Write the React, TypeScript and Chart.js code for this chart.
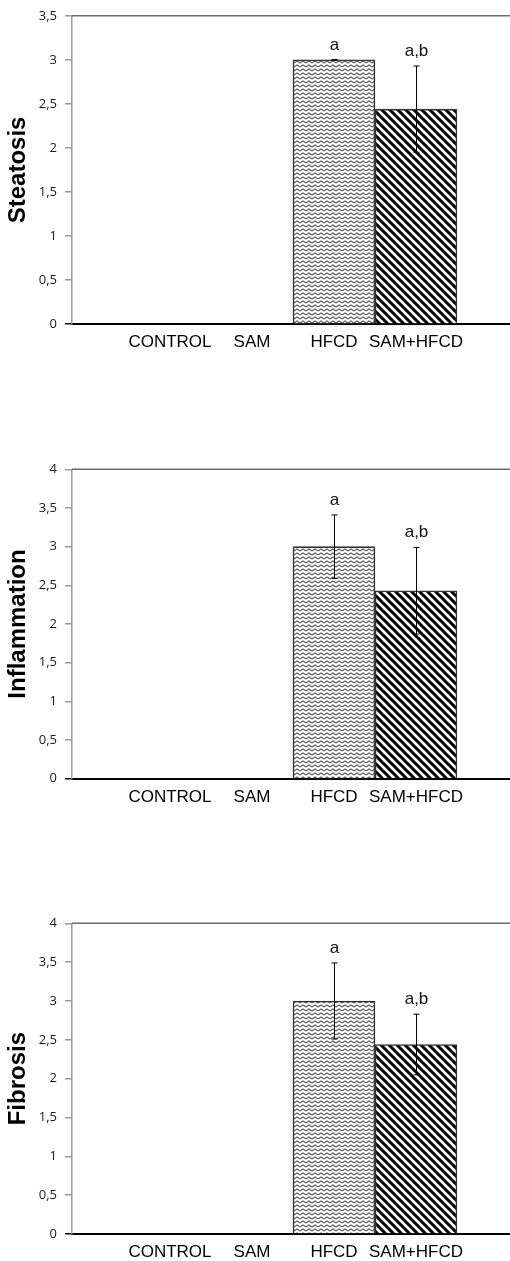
import React, { useEffect, useRef } from 'react';
import { Chart, registerables } from 'chart.js';

Chart.register(...registerables);

// ---------- data ----------
const categories = ['CONTROL', 'SAM', 'HFCD', 'SAM+HFCD'];
const significance = ['', '', 'a', 'a,b'];

const steatosisMean = [0, 0, 3.0, 2.44];
const steatosisErr = [0, 0, 0, 0.49];

const inflammationMean = [0, 0, 3.0, 2.43];
const inflammationErr = [0, 0, 0.41, 0.56];

const fibrosisMean = [0, 0, 3.0, 2.44];
const fibrosisErr = [0, 0, 0.49, 0.39];

const steatosisTicks = [0, 0.5, 1, 1.5, 2, 2.5, 3, 3.5];
const scoreTicks = [0, 0.5, 1, 1.5, 2, 2.5, 3, 3.5, 4];

// ---------- patterns ----------
function makeZigzag(): CanvasPattern | string {
  const c = document.createElement('canvas');
  c.width = 6;
  c.height = 4;
  const g = c.getContext('2d');
  if (!g) return '#ccc';
  g.fillStyle = '#ffffff';
  g.fillRect(0, 0, 6, 4);
  g.strokeStyle = '#5e5e5e';
  g.lineWidth = 1.1;
  g.beginPath();
  g.moveTo(0, 3);
  g.lineTo(3, 1);
  g.lineTo(6, 3);
  g.stroke();
  return g.createPattern(c, 'repeat') || '#ccc';
}

function makeHatch(): CanvasPattern | string {
  const s = 8;
  const c = document.createElement('canvas');
  c.width = s;
  c.height = s;
  const g = c.getContext('2d');
  if (!g) return '#555';
  g.fillStyle = '#ffffff';
  g.fillRect(0, 0, s, s);
  g.strokeStyle = '#000000';
  g.lineWidth = 3;
  g.beginPath();
  for (const k of [-s, 0, s]) {
    g.moveTo(-1, k - 1);
    g.lineTo(s + 1, s + k + 1);
  }
  g.stroke();
  return g.createPattern(c, 'repeat') || '#555';
}

// ---------- panel ----------
type PanelProps = {
  title: string;
  means: number[];
  errs: number[];
  yTicks: number[];
  top: number;
  height: number;
  plotTop: number;
  plotBottom: number;
};

const X_MIN = -0.195;
const X_MAX = X_MIN + 438 / 82;

function Panel({ title, means, errs, yTicks, top, height, plotTop, plotBottom }: PanelProps) {
  const ref = useRef<HTMLCanvasElement | null>(null);

  useEffect(() => {
    const canvas = ref.current;
    if (!canvas) return;
    const zig = makeZigzag();
    const hatch = makeHatch();
    const fills = ['rgba(0,0,0,0)', 'rgba(0,0,0,0)', zig, hatch];

    const overlay = {
      id: 'overlay',
      afterDatasetsDraw(chart: any) {
        const { ctx, scales } = chart;
        const x = scales.x;
        const y = scales.y;
        ctx.save();
        ctx.strokeStyle = '#000';
        ctx.lineWidth = 1;
        ctx.fillStyle = '#111';
        ctx.font = '17px "Liberation Sans", Arial, sans-serif';
        ctx.textAlign = 'center';
        ctx.textBaseline = 'alphabetic';
        means.forEach((m, i) => {
          if (m <= 0) return;
          const px = Math.round(x.getPixelForValue(i + 1)) + 0.5;
          const t = y.getPixelForValue(m + errs[i]);
          const b = y.getPixelForValue(m - errs[i]);
          ctx.beginPath();
          ctx.moveTo(px, t);
          ctx.lineTo(px, b);
          ctx.moveTo(px - 3, t);
          ctx.lineTo(px + 3, t);
          ctx.moveTo(px - 3, b);
          ctx.lineTo(px + 3, b);
          ctx.stroke();
          if (significance[i]) ctx.fillText(significance[i], px, t - 10);
        });
        ctx.restore();
      },
      afterDraw(chart: any) {
        const { ctx, chartArea } = chart;
        ctx.save();
        ctx.strokeStyle = '#6a6a6a';
        ctx.lineWidth = 1.5;
        ctx.beginPath();
        ctx.moveTo(chartArea.left, chartArea.top);
        ctx.lineTo(chartArea.right, chartArea.top);
        ctx.stroke();
        ctx.restore();
      },
    };

    const xAxisHeight = height - plotBottom;

    const chart = new Chart(canvas, {
      type: 'bar',
      data: {
        datasets: [
          {
            data: means.map((v, i) => ({ x: i + 1, y: v })),
            backgroundColor: fills as any,
            borderColor: '#333333',
            borderWidth: 1.6,
            barPercentage: 1,
            categoryPercentage: 1,
          } as any,
        ],
      },
      options: {
        responsive: false,
        animation: false,
        events: [],
        layout: { padding: { top: plotTop, left: 0, right: 0, bottom: 0 } },
        plugins: {
          legend: { display: false },
          tooltip: { enabled: false },
        },
        scales: {
          x: {
            type: 'linear',
            offset: false,
            min: X_MIN,
            max: X_MAX,
            afterBuildTicks: (s: any) => {
              s.ticks = categories.map((_, i) => ({ value: i + 1 }));
            },
            afterFit: (s: any) => {
              s.height = xAxisHeight;
            },
            ticks: {
              autoSkip: false,
              maxRotation: 0,
              minRotation: 0,
              padding: 8,
              color: '#000',
              font: { family: '"Liberation Sans", Arial, sans-serif', size: 17 },
              callback: (v: any) => categories[Math.round(Number(v)) - 1] ?? '',
            },
            grid: { display: false, drawTicks: false, tickLength: 0 },
            border: { display: true, color: '#000', width: 2 },
          },
          y: {
            type: 'linear',
            min: 0,
            max: yTicks[yTicks.length - 1],
            afterBuildTicks: (s: any) => {
              s.ticks = yTicks.map((v) => ({ value: v }));
            },
            afterFit: (s: any) => {
              s.width = 72;
            },
            ticks: {
              padding: 8,
              color: '#1a1a1a',
              font: { family: '"Open Sans", sans-serif', size: 13 },
              callback: (v: any) => String(v).replace('.', ','),
            },
            grid: {
              display: true,
              drawOnChartArea: false,
              drawTicks: true,
              tickLength: 7,
              lineWidth: 1.5,
              color: (c: any) => (c.tick && c.tick.value === 0 ? '#000' : '#9a9a9a'),
            },
            border: { display: true, color: '#9a9a9a', width: 1.5 },
            title: {
              display: true,
              text: title,
              color: '#000',
              padding: { top: 4, bottom: 0 },
              font: { family: '"Liberation Sans", Arial, sans-serif', size: 24, weight: 'bold' },
            },
          },
        },
      } as any,
      plugins: [overlay],
    });

    return () => chart.destroy();
  }, [title, means, errs, yTicks, height, plotTop, plotBottom]);

  return (
    <canvas
      ref={ref}
      width={510}
      height={height}
      style={{ position: 'absolute', left: 0, top, width: 510, height, display: 'block' }}
    />
  );
}

export default function App() {
  return (
    <div style={{ position: 'absolute', left: 0, top: 0, width: 510, height: 1261, background: '#fff', overflow: 'hidden' }}>
      <Panel title="Steatosis" means={steatosisMean} errs={steatosisErr} yTicks={steatosisTicks} top={0} height={370} plotTop={14.5} plotBottom={324} />
      <Panel title="Inflammation" means={inflammationMean} errs={inflammationErr} yTicks={scoreTicks} top={420} height={400} plotTop={49.3} plotBottom={358.7} />
      <Panel title="Fibrosis" means={fibrosisMean} errs={fibrosisErr} yTicks={scoreTicks} top={880} height={381} plotTop={43.3} plotBottom={354} />
    </div>
  );
}
